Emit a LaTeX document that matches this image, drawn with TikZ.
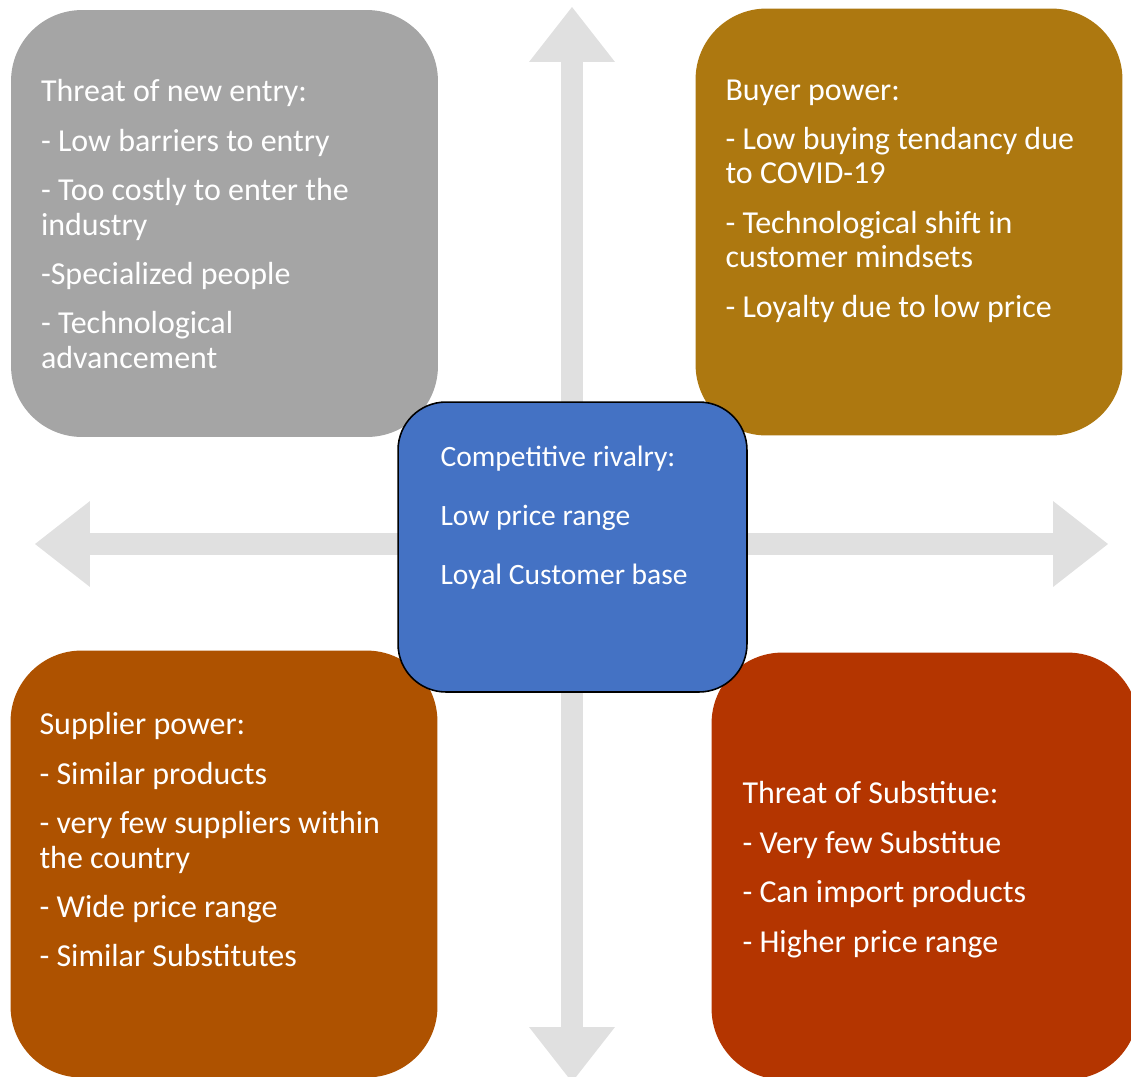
\documentclass[tikz,border=0pt]{standalone}
\usepackage{fontspec}
\setmainfont{Carlito}
\usetikzlibrary{arrows.meta, positioning}
\definecolor{axisgray}{HTML}{E0E0E0}
\definecolor{entrygray}{HTML}{A5A5A5}
\definecolor{buyergold}{HTML}{AD7810}
\definecolor{supplierbrown}{HTML}{AE5200}
\definecolor{substred}{HTML}{B43500}
\definecolor{rivalblue}{HTML}{4472C4}
\tikzset{
    force/.style={rectangle, rounded corners=1.42cm, minimum width=8.54cm, minimum height=8.54cm, inner sep=0pt},
    rivalry/.style={rectangle, draw=black, line width=0.9pt, fill=rivalblue, rounded corners=0.96cm, minimum width=6.98cm, minimum height=5.8cm, inner sep=0pt},
    boxtext/.style={align=left, text=white, inner sep=0pt, font=\fontsize{18.2}{19.6}\selectfont, execute at begin node=\strut},
    axis/.style={draw=axisgray, line width=0.44cm, {Triangle[length=1.1cm, width=1.72cm, line width=0pt]}-{Triangle[length=1.1cm, width=1.72cm, line width=0pt]}}
}

\begin{document}
\begin{tikzpicture}[x=0.02cm, y=-0.02cm]
    \path[use as bounding box, clip] (0,0) rectangle (1131,1076);
    % Axes
    \coordinate (ax_top) at (572,7);
    \coordinate (ax_bottom) at (572,1082);
    \coordinate (ax_left) at (35,544);
    \coordinate (ax_right) at (1108,544);
    \draw [axis] (ax_bottom) -- (ax_top);
    \draw [axis] (ax_left) -- (ax_right);
    % Forces
    \node (entry) [force, fill=entrygray] at (224.5,223.5) {};
    \node (buyer) [force, fill=buyergold] at (909,222) {};
    \node (supplier) [force, fill=supplierbrown] at (224,864) {};
    \node (subst) [force, fill=substred] at (925,866) {};
    \node (rival) [rivalry] at (572.5,547) {};
    % Texts
    \node (entry_txt) [boxtext, below right=1.39cm and 0.6cm of entry.north west] {Threat of new entry:\\[0.3cm]
        - Low barriers to entry\\[0.3cm]
        - Too costly to enter the\\
        industry\\[0.3cm]
        -Specialized people\\[0.3cm]
        - Technological\\
        advancement};
    \node (buyer_txt) [boxtext, below right=1.42cm and 0.6cm of buyer.north west] {Buyer power:\\[0.3cm]
        - Low buying tendancy due\\
        to COVID-19\\[0.3cm]
        - Technological shift in\\
        customer mindsets\\[0.3cm]
        - Loyalty due to low price};
    \node (supplier_txt) [boxtext, below right=1.24cm and 0.58cm of supplier.north west] {Supplier power:\\[0.3cm]
        - Similar products\\[0.3cm]
        - very few suppliers within\\
        the country\\[0.3cm]
        - Wide price range\\[0.3cm]
        - Similar Substitutes};
    \node (subst_txt) [boxtext, below right=2.58cm and 0.62cm of subst.north west] {Threat of Substitue:\\[0.3cm]
        - Very few Substitue\\[0.3cm]
        - Can import products\\[0.3cm]
        - Higher price range};
    \node (rival_txt) [boxtext, font=\fontsize{16.8}{19.6}\selectfont, below right=0.88cm and 0.86cm of rival.north west] {Competitive rivalry:\\[0.5cm]
        Low price range\\[0.5cm]
        Loyal Customer base};
\end{tikzpicture}
\end{document}
